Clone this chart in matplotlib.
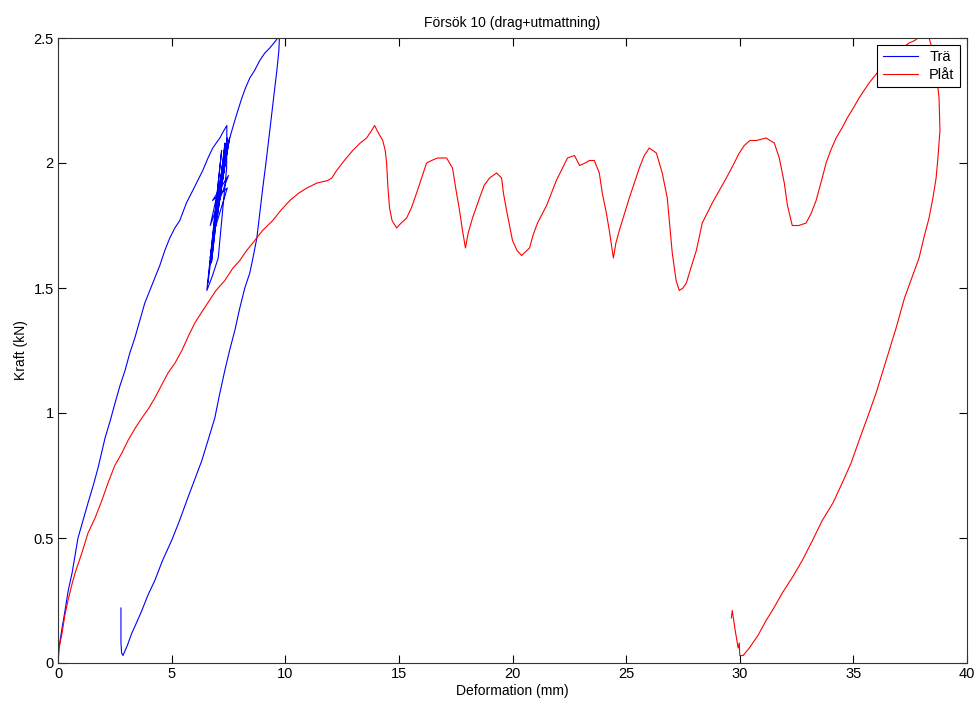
import matplotlib
matplotlib.use("Agg")
import matplotlib.pyplot as plt

plt.rcParams['font.family'] = ['Liberation Sans', 'DejaVu Sans']

title = "Försök 10 (drag+utmattning)"
xlabel = "Deformation (mm)"
ylabel = "Kraft (kN)"
series_names = ["Trä", "Plåt"]

xticks = [0, 5, 10, 15, 20, 25, 30, 35, 40]
yticks = [0, 0.5, 1, 1.5, 2, 2.5]
yticklabels = ["0", "0.5", "1", "1.5", "2", "2.5"]

tra_x = [0, 0.04, 0.18, 0.31, 0.45, 0.62, 0.75, 0.88, 1.1, 1.32, 1.55, 1.76, 2.07, 2.3, 2.51, 2.73,
         2.95, 3.16, 3.38, 3.6, 3.82, 4.04, 4.26, 4.48, 4.7, 4.92, 5.14, 5.36, 5.65, 5.93, 6.15, 6.37,
         6.6, 6.81, 7.12, 7.3, 7.43,
         7.42, 7.05, 6.8, 6.55,
         7.2, 6.6, 7.35, 6.75, 7.25, 6.7, 7.45, 6.85, 7.3, 6.8, 7.4, 6.9, 7.5, 6.95, 7.35, 7.0,
         7.45, 6.7, 7.5, 6.8, 7.45, 6.85, 7.55, 7.0, 7.5,
         7.62, 7.78, 7.95, 8.09, 8.25, 8.44, 8.65, 8.88, 9.1, 9.32, 9.5, 9.67, 9.75,
         9.72, 9.63, 9.5, 9.32, 9.15, 9.01, 8.88, 8.75, 8.6, 8.44, 8.22, 8.0, 7.78, 7.55, 7.34, 7.1,
         6.9, 6.6, 6.33, 6.0, 5.71, 5.35, 5.0, 4.6, 4.26, 3.95, 3.69, 3.45, 3.25, 3.05, 2.86, 2.8,
         2.77, 2.77]
tra_y = [0, 0.06, 0.14, 0.21, 0.29, 0.36, 0.43, 0.5, 0.57, 0.64, 0.71, 0.78, 0.9, 0.97, 1.04, 1.11,
         1.17, 1.24, 1.3, 1.37, 1.44, 1.49, 1.54, 1.59, 1.65, 1.7, 1.74, 1.77, 1.84, 1.89, 1.93, 1.97,
         2.02, 2.06, 2.1, 2.13, 2.15,
         1.98, 1.62, 1.55, 1.49,
         2.05, 1.52, 2.08, 1.6, 2.0, 1.62, 2.1, 1.7, 2.02, 1.68, 2.06, 1.75, 2.08, 1.8, 2.0, 1.78,
         2.06, 1.75, 1.95, 1.85, 1.9, 1.72, 2.1, 1.82, 2.08,
         2.12, 2.17, 2.22, 2.26, 2.3, 2.34, 2.37, 2.41, 2.44, 2.46, 2.48, 2.5, 2.52,
         2.45, 2.37, 2.27, 2.13, 2.0, 1.9, 1.8, 1.7, 1.63, 1.56, 1.5, 1.42, 1.33, 1.25, 1.17, 1.07,
         0.98, 0.89, 0.81, 0.73, 0.66, 0.57, 0.49, 0.41, 0.33, 0.27, 0.21, 0.16, 0.12, 0.07, 0.03, 0.04,
         0.08, 0.22]

plat_x = [0, 0.05, 0.18, 0.3, 0.44, 0.6, 0.75, 0.9, 1.05, 1.32, 1.63, 1.93, 2.2, 2.5, 2.81, 3.08,
          3.4, 3.69, 4.0, 4.26, 4.55, 4.84, 5.15, 5.45, 5.75, 6.02, 6.3, 6.59, 6.95, 7.34, 7.7, 8.0,
          8.3, 8.57, 9.0, 9.45, 9.8, 10.2, 10.6, 10.95, 11.4, 11.87, 12.05, 12.26, 12.6, 12.97, 13.3,
          13.58, 13.8, 13.93, 14.1, 14.29, 14.4, 14.46, 14.52, 14.59, 14.7, 14.9, 15.1, 15.34, 15.55,
          15.78, 16.0, 16.22, 16.44, 16.7, 16.9, 17.1, 17.36, 17.5, 17.67, 17.8, 17.93, 18.05, 18.24,
          18.55, 18.75, 18.99, 19.3, 19.52, 19.6, 19.74, 20.0, 20.2, 20.4, 20.75, 20.9, 21.1, 21.5,
          21.93, 22.2, 22.42, 22.73, 22.95, 23.2, 23.38, 23.6, 23.82, 23.95, 24.13, 24.26, 24.44,
          24.55, 24.7, 25.14, 25.58, 25.8, 26.02, 26.33, 26.59, 26.81, 26.92, 27.03, 27.2, 27.34,
          27.5, 27.65, 27.85, 28.09, 28.35, 28.79, 29.1, 29.41, 29.7, 29.98, 30.2, 30.45, 30.73,
          31.16, 31.52, 31.74, 31.85, 31.96, 32.1, 32.31, 32.6, 32.92, 33.15, 33.36, 33.6, 33.8,
          34.0, 34.24, 34.5, 34.73, 35.0, 35.25, 35.69, 36.13, 36.57, 37.0, 37.45, 37.7, 38.0, 38.3,
          38.46, 38.64, 38.77, 38.81, 38.72, 38.64, 38.5, 38.33, 38.1, 37.89, 37.65, 37.45, 37.25,
          36.88, 36.44, 36.0, 35.69, 35.25, 34.9, 34.51, 34.1, 33.63, 33.2, 32.75, 32.3, 31.87,
          31.5, 31.16, 30.8, 30.42, 30.15, 30.0, 29.98, 29.93, 29.8, 29.67, 29.63]
plat_y = [0, 0.06, 0.12, 0.19, 0.25, 0.31, 0.36, 0.4, 0.44, 0.52, 0.58, 0.65, 0.72, 0.79, 0.84, 0.89,
          0.94, 0.98, 1.02, 1.06, 1.11, 1.16, 1.2, 1.25, 1.31, 1.36, 1.4, 1.44, 1.49, 1.53, 1.58, 1.61,
          1.65, 1.68, 1.73, 1.77, 1.81, 1.85, 1.88, 1.9, 1.92, 1.93, 1.94, 1.97, 2.01, 2.05, 2.08,
          2.1, 2.13, 2.15, 2.12, 2.09, 2.05, 2.0, 1.9, 1.82, 1.77, 1.74, 1.76, 1.78, 1.82,
          1.88, 1.94, 2.0, 2.01, 2.02, 2.02, 2.02, 1.98, 1.9, 1.81, 1.73, 1.66, 1.72, 1.78,
          1.86, 1.91, 1.94, 1.96, 1.94, 1.88, 1.81, 1.69, 1.65, 1.63, 1.66, 1.71, 1.76, 1.83,
          1.93, 1.98, 2.02, 2.03, 1.99, 2.0, 2.01, 2.01, 1.96, 1.88, 1.8, 1.73, 1.62,
          1.68, 1.73, 1.86, 1.98, 2.03, 2.06, 2.04, 1.96, 1.86, 1.75, 1.64, 1.53, 1.49,
          1.5, 1.52, 1.58, 1.65, 1.76, 1.84, 1.89, 1.94, 1.99, 2.04, 2.07, 2.09, 2.09,
          2.1, 2.08, 2.02, 1.97, 1.92, 1.83, 1.75, 1.75, 1.76, 1.8, 1.85, 1.93, 2.0,
          2.05, 2.1, 2.14, 2.18, 2.22, 2.26, 2.32, 2.37, 2.42, 2.45, 2.48, 2.49, 2.51, 2.51,
          2.46, 2.37, 2.26, 2.13, 2.02, 1.94, 1.86, 1.78, 1.7, 1.62, 1.56, 1.51, 1.46,
          1.34, 1.21, 1.08, 1.0, 0.89, 0.8, 0.72, 0.64, 0.57, 0.49, 0.41, 0.34, 0.28,
          0.22, 0.17, 0.11, 0.06, 0.03, 0.03, 0.08, 0.06, 0.13, 0.21, 0.18]

fig = plt.figure(figsize=(9.8, 7.1), dpi=100)
ax = fig.add_axes([58 / 980, 47 / 710, (967 - 58) / 980, (663 - 38) / 710])

ax.plot(tra_x, tra_y, color=(0, 0, 1), lw=0.8, label=series_names[0])
ax.plot(plat_x, plat_y, color=(1, 0, 0), lw=0.8, label=series_names[1])

ax.set_xlim(0, 40)
ax.set_ylim(0, 2.5)
ax.set_xticks(xticks)
ax.set_xticklabels([str(t) for t in xticks])
ax.set_yticks(yticks)
ax.set_yticklabels(yticklabels)
ax.tick_params(direction='in', length=6, width=0.8, top=True, right=True,
               labelsize=10.5, colors='black', pad=3)
for s in ax.spines.values():
    s.set_color('#333333')
    s.set_linewidth(0.8)

ax.set_title(title, fontsize=10, pad=8)
ax.set_xlabel(xlabel, fontsize=10, labelpad=2)
ax.set_ylabel(ylabel, fontsize=10, labelpad=4)

leg = ax.legend(loc='upper right', fontsize=10.5, fancybox=False, framealpha=1,
                edgecolor='black', borderaxespad=0.5, handlelength=2.4,
                borderpad=0.35, labelspacing=0.25, handletextpad=0.8)
leg.get_frame().set_linewidth(0.8)

fig.savefig("out.png", dpi=100, facecolor='white')
